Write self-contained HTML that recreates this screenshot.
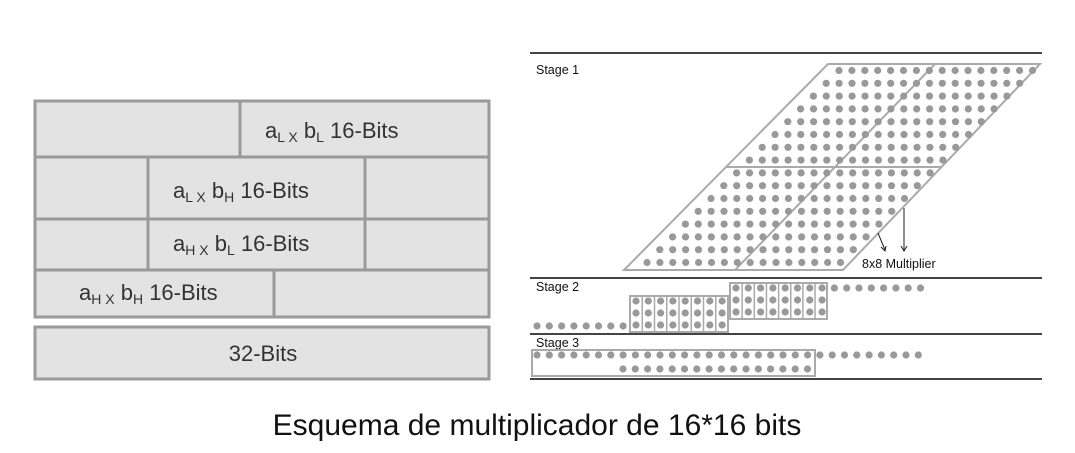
<!DOCTYPE html>
<html><head><meta charset="utf-8"><style>
body{margin:0;background:#fff;width:1075px;height:453px;overflow:hidden}
svg{display:block}
text{font-family:"Liberation Sans",sans-serif}
</style></head><body>
<svg id="s" width="1075" height="453" xmlns="http://www.w3.org/2000/svg">
<g fill="#e3e3e3" stroke="#9a9a9a" stroke-width="3">
<rect x="35" y="101" width="205" height="56"/><rect x="240" y="101" width="249" height="56"/>
<rect x="35" y="157" width="113" height="62"/><rect x="148" y="157" width="217" height="62"/><rect x="365" y="157" width="124" height="62"/>
<rect x="35" y="219" width="113" height="51"/><rect x="148" y="219" width="217" height="51"/><rect x="365" y="219" width="124" height="51"/>
<rect x="35" y="270" width="239" height="47"/><rect x="274" y="270" width="215" height="47"/>
<rect x="35" y="327" width="454" height="52"/>
</g>
<g fill="#333" font-size="22">
<text x="265" y="138">a<tspan font-size="14" dy="4">L X</tspan><tspan dy="-4"> b</tspan><tspan font-size="14" dy="4">L</tspan><tspan dy="-4"> 16-Bits</tspan></text>
<text x="173" y="198">a<tspan font-size="14" dy="4">L X</tspan><tspan dy="-4"> b</tspan><tspan font-size="14" dy="4">H</tspan><tspan dy="-4"> 16-Bits</tspan></text>
<text x="173" y="251">a<tspan font-size="14" dy="4">H X</tspan><tspan dy="-4"> b</tspan><tspan font-size="14" dy="4">L</tspan><tspan dy="-4"> 16-Bits</tspan></text>
<text x="79" y="300">a<tspan font-size="14" dy="4">H X</tspan><tspan dy="-4"> b</tspan><tspan font-size="14" dy="4">H</tspan><tspan dy="-4"> 16-Bits</tspan></text>
<text x="263" y="361" text-anchor="middle">32-Bits</text>
</g>
<g stroke="#444" stroke-width="2">
<line x1="530" y1="53" x2="1042" y2="53"/><line x1="530" y1="278" x2="1042" y2="278"/>
<line x1="530" y1="334" x2="1042" y2="334"/><line x1="530" y1="379" x2="1042" y2="379"/>
</g>
<g fill="#111" font-size="12.5">
<text x="536" y="74">Stage 1</text><text x="536" y="291">Stage 2</text><text x="536" y="347">Stage 3</text>
<text x="862" y="268">8x8 Multiplier</text>
</g>
<g fill="none" stroke="#aaa" stroke-width="2">
<polygon points="828,64 1040,64 843,270 624,270"/>
<line x1="726" y1="167" x2="942" y2="167"/>
<line x1="935" y1="64" x2="735" y2="270"/>
<rect x="730" y="283" width="97" height="36"/><rect x="630" y="296" width="98" height="36"/>
<rect x="532" y="350" width="283" height="26"/>
</g>
<g id="d" fill="#999"></g>
<g stroke="#222" stroke-width="1" fill="none">
<line x1="878" y1="233" x2="885" y2="250"/><path d="M881,247 L885,251 L886,246"/>
<line x1="904" y1="208" x2="904" y2="250"/><path d="M901,246 L904,251 L907,246"/>
</g>
<text x="537" y="435" text-anchor="middle" font-size="30" fill="#111">Esquema de multiplicador de 16*16 bits</text>
</svg>
<script>
var g=document.getElementById('d'),ns='http://www.w3.org/2000/svg',b=document.getElementById('s');
function c(x,y){var e=document.createElementNS(ns,'circle');e.setAttribute('cx',x);e.setAttribute('cy',y);e.setAttribute('r',3.6);g.appendChild(e);}
for(var i=0;i<16;i++)for(var j=0;j<16;j++)c(839-i*12.8+j*12.9,70.5+i*12.8);
var sp=12.3;
for(var j=0;j<16;j++)c(736+j*sp,288);
for(var r=1;r<3;r++)for(var j=0;j<8;j++)c(736+j*sp,288+r*12);
for(var r=0;r<3;r++)for(var j=0;j<8;j++)c(636+j*sp,301+r*12);
for(var j=0;j<8;j++)c(537+j*sp,326);
for(var j=0;j<32;j++)c(537+j*12.3,355);
for(var j=0;j<16;j++)c(623+j*12.3,369);
function l(x1,y1,x2,y2){var e=document.createElementNS(ns,'line');e.setAttribute('x1',x1);e.setAttribute('y1',y1);e.setAttribute('x2',x2);e.setAttribute('y2',y2);e.setAttribute('stroke','#aaa');e.setAttribute('stroke-width','1.5');b.appendChild(e);}
for(var j=1;j<8;j++){l(730+j*12.15,283,730+j*12.15,319);l(630+j*12.25,296,630+j*12.25,332);}
</script>
</body></html>
